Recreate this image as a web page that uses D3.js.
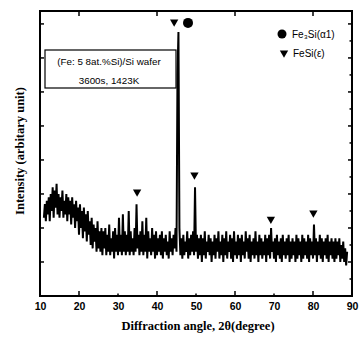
<!DOCTYPE html>
<html>
<head>
<meta charset="utf-8">
<script src="https://cdn.jsdelivr.net/npm/d3@7"></script>
<style>
  body { margin: 0; background: #fff; }
  svg { display: block; }
</style>
</head>
<body>
<div id="chart"></div>
<script>
// XRD pattern (intensity in arbitrary units)
var angleStart = 11, angleStep = 0.25;
var intensity = [
  2.3, 2.7, 2.2, 2.8, 2.4, 2.9, 2.2, 3.0, 2.5, 3.2, 2.3, 3.1, 2.6, 3.3, 2.4, 3.0, 2.3, 2.9, 2.5, 3.1,
  2.3, 2.8, 2.4, 3.0, 2.2, 2.9, 2.4, 2.8, 2.1, 2.9, 2.3, 2.7, 2.0, 2.8, 2.2, 2.6, 1.8, 2.7, 2.0, 2.5,
  1.7, 2.6, 1.9, 2.4, 1.6, 2.5, 1.8, 2.2, 1.5, 2.3, 1.4, 2.1, 1.6, 2.0, 1.3, 2.2, 1.4, 1.9, 1.3, 2.0,
  1.2, 1.9, 1.4, 2.0, 1.2, 1.8, 1.3, 2.1, 1.2, 1.7, 1.3, 1.9, 1.1, 2.0, 1.3, 1.8, 1.2, 2.3, 1.3, 1.8,
  1.2, 2.4, 1.3, 1.9, 1.2, 1.8, 1.3, 2.5, 1.2, 1.9, 1.3, 1.7, 1.2, 2.0, 1.3, 2.7, 1.4, 1.8, 1.2, 1.9,
  1.3, 2.2, 1.2, 1.8, 1.3, 2.3, 1.1, 1.9, 1.3, 1.7, 1.2, 2.0, 1.3, 1.8, 1.1, 1.9, 1.2, 1.7, 1.3, 1.8,
  1.2, 1.9, 1.1, 1.7, 1.3, 1.8, 1.2, 1.6, 1.1, 1.9, 1.3, 1.7, 1.2, 1.8, 1.4, 2.0, 1.3, 6.5, 7.76, 2.0,
  1.2, 1.7, 1.1, 1.8, 1.2, 1.6, 1.3, 1.9, 1.1, 1.7, 1.2, 1.8, 1.3, 1.9, 1.2, 3.2, 1.3, 1.8, 1.1, 1.7,
  1.2, 1.8, 1.0, 1.7, 1.2, 1.9, 1.1, 1.6, 1.3, 1.8, 1.2, 1.7, 1.0, 1.6, 1.2, 1.8, 1.1, 1.7, 1.3, 1.9,
  1.1, 1.6, 1.2, 1.8, 1.0, 1.7, 1.2, 1.9, 1.1, 1.6, 1.3, 1.8, 1.1, 1.7, 1.0, 1.9, 1.2, 1.6, 1.1, 1.8,
  1.2, 1.7, 1.0, 1.8, 1.2, 1.6, 1.1, 1.9, 1.3, 1.7, 1.1, 1.8, 1.0, 1.6, 1.2, 1.7, 1.1, 1.9, 1.2, 1.6,
  1.0, 1.8, 1.2, 1.7, 1.1, 1.6, 1.2, 1.8, 1.0, 1.7, 1.2, 1.8, 1.1, 2.0, 1.3, 1.6, 1.1, 1.7, 1.0, 1.8,
  1.2, 1.6, 1.1, 1.7, 1.0, 1.8, 1.2, 1.6, 1.1, 1.7, 1.2, 1.8, 1.0, 1.6, 1.1, 1.7, 1.2, 1.6, 1.0, 1.8,
  1.1, 1.7, 1.2, 1.6, 1.0, 1.8, 1.1, 1.7, 1.2, 1.6, 1.1, 1.8, 1.0, 1.7, 1.2, 1.6, 1.1, 2.1, 1.2, 1.7,
  1.0, 1.6, 1.2, 1.8, 1.1, 1.7, 1.0, 1.6, 1.2, 1.7, 1.1, 1.8, 1.0, 1.6, 1.2, 1.7, 1.1, 1.6, 1.0, 1.7,
  1.1, 1.6, 1.2, 1.7, 1.0, 1.5, 1.1, 1.6, 1.0, 1.4, 0.9, 1.3
];

// phase markers (angle, height)
var alphaAngles = [47.95];
var alphaLevels = [8.03];
var epsAngles = [44.4, 34.9, 49.6, 69.2, 80.1];
var epsLevels = [8.06, 3.06, 3.56, 2.26, 2.44];

var xTicks = [10, 20, 30, 40, 50, 60, 70, 80, 90];
var legendLabels = ["Fe\u2083Si(\u03b11)", "FeSi(\u03b5)"];
var noteLines = ["(Fe: 5 8at.%Si)/Si wafer", "3600s, 1423K"];

var W = 359, H = 338;
var margin = {top: 11, right: 7, bottom: 42, left: 40},
    width = W - margin.left - margin.right,
    height = H - margin.top - margin.bottom;

var svg = d3.select("#chart").append("svg")
    .attr("width", W).attr("height", H);
var g = svg.append("g")
    .attr("transform", "translate(" + margin.left + "," + margin.top + ")");

var x = d3.scaleLinear().domain([10, 90]).range([0, width]);
var y = d3.scaleLinear().domain([0, 8.38]).range([height, 0]);

var data = intensity.map(function(v, i) { return {a: angleStart + i * angleStep, v: v}; });

// trace
g.append("path")
  .datum(data)
  .attr("fill", "none")
  .attr("stroke", "#000")
  .attr("stroke-width", 2)
  .attr("stroke-linejoin", "miter")
  .attr("d", d3.line().x(function(d) { return x(d.a); }).y(function(d) { return y(d.v); }));

// frame
g.append("rect")
  .attr("width", width).attr("height", height)
  .attr("fill", "none").attr("stroke", "#000").attr("stroke-width", 2);

// bottom axis: labels + inward ticks
var xb = g.append("g").attr("transform", "translate(0," + height + ")")
  .call(d3.axisBottom(x).tickValues(xTicks).tickSize(0).tickPadding(7).tickFormat(d3.format("d")));
xb.select(".domain").remove();
xb.selectAll("text").style("font-family", "Arial, 'Liberation Sans', sans-serif")
  .style("font-size", "10.5px").style("font-weight", "bold");

g.append("g").selectAll("line")
  .data([20, 30, 40, 50, 60, 70, 80]).enter().append("line")
  .attr("x1", function(d) { return x(d); }).attr("x2", function(d) { return x(d); })
  .attr("y1", height).attr("y2", function(d) { return height - (d % 20 === 0 ? 5 : 2.5); })
  .attr("stroke", "#000").attr("stroke-width", 1.5);

// top ticks
g.append("g").selectAll("line")
  .data([20, 40, 60, 80]).enter().append("line")
  .attr("x1", function(d) { return x(d); }).attr("x2", function(d) { return x(d); })
  .attr("y1", 0).attr("y2", 5)
  .attr("stroke", "#000").attr("stroke-width", 1.5);

// left ticks
g.append("g").selectAll("line")
  .data(d3.range(1, 9)).enter().append("line")
  .attr("x1", 0).attr("x2", 4)
  .attr("y1", function(d) { return y(d); }).attr("y2", function(d) { return y(d); })
  .attr("stroke", "#000").attr("stroke-width", 1.5);

// right ticks
g.append("g").selectAll("line")
  .data(d3.range(0.5, 8.5, 0.5)).enter().append("line")
  .attr("x1", width).attr("x2", function(d) { return width - (d % 1 === 0 ? 4 : 2.5); })
  .attr("y1", function(d) { return y(d); }).attr("y2", function(d) { return y(d); })
  .attr("stroke", "#000").attr("stroke-width", 1.5);

// markers
var tri = d3.symbol().type(d3.symbolTriangle).size(30);
g.append("g").selectAll("path")
  .data(epsAngles).enter().append("path")
  .attr("d", tri)
  .attr("transform", function(d, i) { return "translate(" + x(d) + "," + y(epsLevels[i]) + ") rotate(180)"; })
  .attr("fill", "#000");
g.append("g").selectAll("circle")
  .data(alphaAngles).enter().append("circle")
  .attr("cx", function(d) { return x(d); })
  .attr("cy", function(d, i) { return y(alphaLevels[i]); })
  .attr("r", 5).attr("fill", "#000");

// note box
var note = g.append("g").attr("transform", "translate(5,39)");
note.append("rect").attr("width", 131).attr("height", 38)
  .attr("fill", "#fff").attr("stroke", "#000").attr("stroke-width", 1.2);
note.selectAll("text").data(noteLines).enter().append("text")
  .attr("x", 64).attr("y", function(d, i) { return 15 + i * 18.5; })
  .attr("text-anchor", "middle")
  .style("font-family", "Arial, 'Liberation Sans', sans-serif")
  .style("font-size", "9.8px")
  .text(function(d) { return d; });

// legend
var leg = g.append("g").attr("transform", "translate(242,23)");
leg.append("circle").attr("cx", 0).attr("cy", 0).attr("r", 4.5).attr("fill", "#000");
leg.append("path").attr("d", tri).attr("transform", "translate(2,19) rotate(180)").attr("fill", "#000");
leg.append("text").attr("x", 10).attr("y", 3.5)
  .style("font-family", "Arial, 'Liberation Sans', sans-serif").style("font-size", "10px")
  .text(legendLabels[0]);
leg.append("text").attr("x", 11).attr("y", 22.5)
  .style("font-family", "Arial, 'Liberation Sans', sans-serif").style("font-size", "10px")
  .text(legendLabels[1]);

// axis titles
svg.append("text")
  .attr("x", margin.left + width / 2 + 2).attr("y", 330)
  .attr("text-anchor", "middle")
  .style("font-family", "'Liberation Serif', 'Times New Roman', serif")
  .style("font-size", "12.5px").style("font-weight", "bold")
  .text("Diffraction angle, 2\u03b8(degree)");

svg.append("text")
  .attr("transform", "translate(24,151) rotate(-90)")
  .attr("text-anchor", "middle")
  .style("font-family", "'Liberation Serif', 'Times New Roman', serif")
  .style("font-size", "12.5px").style("font-weight", "bold")
  .text("Intensity (arbitary unit)");
</script>
</body>
</html>
